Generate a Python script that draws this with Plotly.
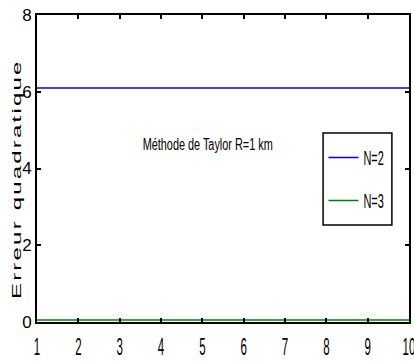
import plotly.graph_objects as go

x_vals = [1, 2, 3, 4, 5, 6, 7, 8, 9, 10]
n2_vals = [6.1, 6.1, 6.1, 6.1, 6.1, 6.1, 6.1, 6.1, 6.1, 6.1]
n3_vals = [0.05, 0.05, 0.05, 0.05, 0.05, 0.05, 0.05, 0.05, 0.05, 0.05]
x_ticks = [1, 2, 3, 4, 5, 6, 7, 8, 9, 10]
y_ticks = [0, 2, 4, 6, 8]

FONT = "Liberation Sans, Arial, sans-serif"

fig = go.Figure()
fig.add_trace(go.Scatter(x=x_vals, y=n2_vals, mode="lines", name="N=2",
                         line=dict(color="#0000ff", width=1.5), legendgroup="a"))
fig.add_trace(go.Scatter(x=x_vals, y=n3_vals, mode="lines", name="N=3",
                         line=dict(color="#008000", width=1.5), legendgroup="b"))

axis_common = dict(showline=True, linecolor="black", linewidth=2, mirror="ticks",
                   ticks="inside", ticklen=4, tickwidth=1.5, tickcolor="black", showgrid=False,
                   zeroline=False, automargin=False, ticklabeloverflow="allow")

fig.update_xaxes(range=[1, 10], tickvals=x_ticks, ticklabelstandoff=3,
                 tickfont=dict(family=FONT, size=23, color="black"), **axis_common)
fig.update_yaxes(range=[0, 8], tickvals=y_ticks,
                 tickfont=dict(family=FONT, size=17, color="black"), **axis_common)

fig.add_annotation(xref="paper", yref="paper", x=0.457, y=0.577,
                   text="Méthode de Taylor R=1 km", showarrow=False,
                   font=dict(family=FONT, size=16, color="black"))
fig.add_annotation(xref="paper", yref="paper", x=-0.078, y=0.465,
                   text="Erreur quadratique", showarrow=False, textangle=-90,
                   font=dict(family=FONT, size=12, color="black"))

# legend frame
fig.add_shape(type="rect", xref="paper", yref="paper",
              x0=0.769, x1=0.954, y0=0.316, y1=0.616,
              line=dict(color="black", width=1.5), fillcolor="rgba(0,0,0,0)")

fig.update_layout(
    width=414, height=363,
    margin=dict(l=37, r=5, t=15, b=41),
    paper_bgcolor="white", plot_bgcolor="white",
    showlegend=True,
    hovermode=False,
    legend=dict(x=0.770, y=0.599, xanchor="left", yanchor="top",
                borderwidth=0, bgcolor="rgba(0,0,0,0)",
                font=dict(family=FONT, size=20, color="black"),
                traceorder="grouped", tracegroupgap=14),
)

post = """
(function(){
  document.body.style.margin = '0';
  document.body.style.padding = '0';
  var gd = document.getElementById('{plot_id}');
  function sx(t, k, mode, ls){
    var tr = t.getAttribute('transform') || '';
    if (tr.indexOf('scale(') >= 0) return;
    if (ls) t.style.letterSpacing = ls;
    var b = t.getBBox();
    var px = mode === 'left' ? b.x : b.x + b.width / 2;
    t.setAttribute('transform', tr + ' translate(' + px + ',0) scale(' + k + ',1) translate(' + (-px) + ',0)');
  }
  function apply(){
    gd.querySelectorAll('.xtick text').forEach(function(t){ sx(t, 0.5, 'center'); });
    gd.querySelectorAll('.legendtext').forEach(function(t){ sx(t, 0.55, 'left'); });
    gd.querySelectorAll('.annotation-text').forEach(function(t){
      if (t.textContent.indexOf('Erreur') >= 0) sx(t, 2.0, 'center', '1.1px');
      else sx(t, 0.68, 'center');
    });
  }
  apply();
  gd.on && gd.on('plotly_afterplot', apply);
})();
"""
fig.write_html("out.html", post_script=post, config={"displayModeBar": False})
